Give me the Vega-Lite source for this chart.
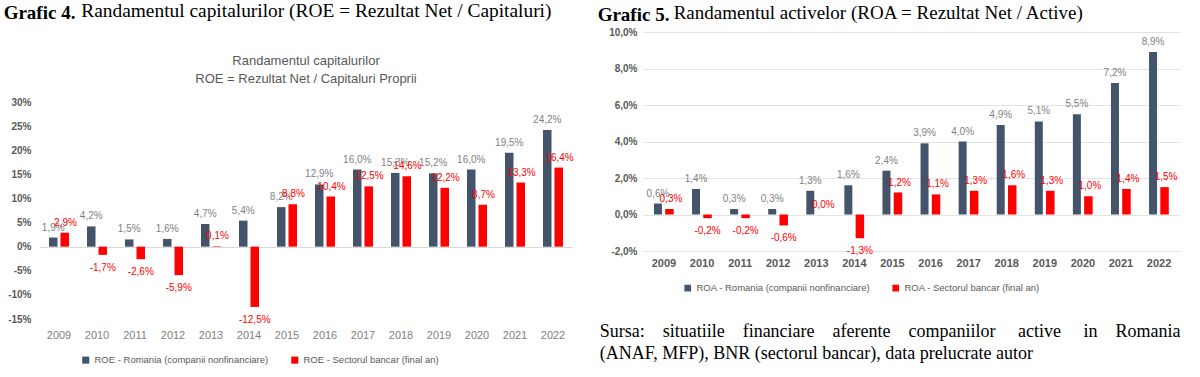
{
  "$schema": "https://vega.github.io/schema/vega-lite/v6.json",
  "padding": {"top": 1, "left": 3, "right": 0, "bottom": 0},
  "config": {
    "locale": {"number": {"decimal": ",", "thousands": ".", "grouping": [3], "currency": ["", " €"], "minus": "-"}},
    "view": {"stroke": null},
    "font": "Liberation Sans"
  },
  "datasets": {
    "roe": [
      {"an": "2009", "serie": "ROE - Romania (companii nonfinanciare)", "v": 0.019},
      {"an": "2010", "serie": "ROE - Romania (companii nonfinanciare)", "v": 0.042},
      {"an": "2011", "serie": "ROE - Romania (companii nonfinanciare)", "v": 0.015},
      {"an": "2012", "serie": "ROE - Romania (companii nonfinanciare)", "v": 0.016},
      {"an": "2013", "serie": "ROE - Romania (companii nonfinanciare)", "v": 0.047},
      {"an": "2014", "serie": "ROE - Romania (companii nonfinanciare)", "v": 0.054},
      {"an": "2015", "serie": "ROE - Romania (companii nonfinanciare)", "v": 0.082},
      {"an": "2016", "serie": "ROE - Romania (companii nonfinanciare)", "v": 0.129},
      {"an": "2017", "serie": "ROE - Romania (companii nonfinanciare)", "v": 0.160},
      {"an": "2018", "serie": "ROE - Romania (companii nonfinanciare)", "v": 0.153},
      {"an": "2019", "serie": "ROE - Romania (companii nonfinanciare)", "v": 0.152},
      {"an": "2020", "serie": "ROE - Romania (companii nonfinanciare)", "v": 0.160},
      {"an": "2021", "serie": "ROE - Romania (companii nonfinanciare)", "v": 0.195},
      {"an": "2022", "serie": "ROE - Romania (companii nonfinanciare)", "v": 0.242},
      {"an": "2009", "serie": "ROE - Sectorul bancar (final an)", "v": 0.029},
      {"an": "2010", "serie": "ROE - Sectorul bancar (final an)", "v": -0.017},
      {"an": "2011", "serie": "ROE - Sectorul bancar (final an)", "v": -0.026},
      {"an": "2012", "serie": "ROE - Sectorul bancar (final an)", "v": -0.059},
      {"an": "2013", "serie": "ROE - Sectorul bancar (final an)", "v": 0.001},
      {"an": "2014", "serie": "ROE - Sectorul bancar (final an)", "v": -0.125},
      {"an": "2015", "serie": "ROE - Sectorul bancar (final an)", "v": 0.088},
      {"an": "2016", "serie": "ROE - Sectorul bancar (final an)", "v": 0.104},
      {"an": "2017", "serie": "ROE - Sectorul bancar (final an)", "v": 0.125},
      {"an": "2018", "serie": "ROE - Sectorul bancar (final an)", "v": 0.146},
      {"an": "2019", "serie": "ROE - Sectorul bancar (final an)", "v": 0.122},
      {"an": "2020", "serie": "ROE - Sectorul bancar (final an)", "v": 0.087},
      {"an": "2021", "serie": "ROE - Sectorul bancar (final an)", "v": 0.133},
      {"an": "2022", "serie": "ROE - Sectorul bancar (final an)", "v": 0.164}
    ],
    "roa": [
      {"an": "2009", "serie": "ROA - Romania (companii nonfinanciare)", "v": 0.006},
      {"an": "2010", "serie": "ROA - Romania (companii nonfinanciare)", "v": 0.014},
      {"an": "2011", "serie": "ROA - Romania (companii nonfinanciare)", "v": 0.003},
      {"an": "2012", "serie": "ROA - Romania (companii nonfinanciare)", "v": 0.003},
      {"an": "2013", "serie": "ROA - Romania (companii nonfinanciare)", "v": 0.013},
      {"an": "2014", "serie": "ROA - Romania (companii nonfinanciare)", "v": 0.016},
      {"an": "2015", "serie": "ROA - Romania (companii nonfinanciare)", "v": 0.024},
      {"an": "2016", "serie": "ROA - Romania (companii nonfinanciare)", "v": 0.039},
      {"an": "2017", "serie": "ROA - Romania (companii nonfinanciare)", "v": 0.040},
      {"an": "2018", "serie": "ROA - Romania (companii nonfinanciare)", "v": 0.049},
      {"an": "2019", "serie": "ROA - Romania (companii nonfinanciare)", "v": 0.051},
      {"an": "2020", "serie": "ROA - Romania (companii nonfinanciare)", "v": 0.055},
      {"an": "2021", "serie": "ROA - Romania (companii nonfinanciare)", "v": 0.072},
      {"an": "2022", "serie": "ROA - Romania (companii nonfinanciare)", "v": 0.089},
      {"an": "2009", "serie": "ROA - Sectorul bancar (final an)", "v": 0.003},
      {"an": "2010", "serie": "ROA - Sectorul bancar (final an)", "v": -0.002},
      {"an": "2011", "serie": "ROA - Sectorul bancar (final an)", "v": -0.002},
      {"an": "2012", "serie": "ROA - Sectorul bancar (final an)", "v": -0.006},
      {"an": "2013", "serie": "ROA - Sectorul bancar (final an)", "v": 0.000},
      {"an": "2014", "serie": "ROA - Sectorul bancar (final an)", "v": -0.013},
      {"an": "2015", "serie": "ROA - Sectorul bancar (final an)", "v": 0.012},
      {"an": "2016", "serie": "ROA - Sectorul bancar (final an)", "v": 0.011},
      {"an": "2017", "serie": "ROA - Sectorul bancar (final an)", "v": 0.013},
      {"an": "2018", "serie": "ROA - Sectorul bancar (final an)", "v": 0.016},
      {"an": "2019", "serie": "ROA - Sectorul bancar (final an)", "v": 0.013},
      {"an": "2020", "serie": "ROA - Sectorul bancar (final an)", "v": 0.010},
      {"an": "2021", "serie": "ROA - Sectorul bancar (final an)", "v": 0.014},
      {"an": "2022", "serie": "ROA - Sectorul bancar (final an)", "v": 0.015}
    ]
  },
  "align": "none",
  "spacing": 23,
  "resolve": {"scale": {"color": "independent"}, "legend": {"color": "independent"}},
  "hconcat": [
    {
      "title": {
        "text": "Grafic 4.",
        "subtitle": "\u200b\u00a0\u00a0\u00a0\u00a0\u00a0\u00a0\u00a0\u00a0\u00a0\u00a0\u00a0\u00a0\u00a0\u00a0\u00a0\u00a0Randamentul capitalurilor (ROE = Rezultat Net / Capitaluri)",
        "anchor": "start",
        "font": "Liberation Serif",
        "fontSize": 19,
        "fontWeight": "bold",
        "color": "#000000",
        "subtitleFont": "Liberation Serif",
        "subtitleFontSize": 19.4,
        "subtitleColor": "#000000",
        "subtitlePadding": -21,
        "offset": 6,
        "dx": -4
      },
      "spacing": 0,
      "vconcat": [
        {
          "width": 532,
          "height": 23,
          "data": {"values": []},
          "mark": {"type": "point"},
          "encoding": {}
        },
        {
          "width": 532,
          "height": 217,
          "title": {
            "text": ["Randamentul capitalurilor", "ROE = Rezultat Net / Capitaluri Proprii"],
            "font": "Liberation Sans",
            "fontSize": 13,
            "fontWeight": "normal",
            "color": "#595959",
            "lineHeight": 18,
            "anchor": "middle",
            "offset": 11
          },
          "data": {"name": "roe"},
          "encoding": {
            "x": {
              "field": "an", "type": "ordinal",
              "scale": {"paddingInner": 0.5, "paddingOuter": 0.25},
              "axis": {"title": null, "domain": false, "ticks": false, "labelAngle": 0, "labelColor": "#7f7f7f", "labelFontSize": 11, "labelPadding": 10}
            },
            "y": {
              "field": "v", "type": "quantitative",
              "scale": {"domain": [-0.15, 0.30], "nice": false},
              "axis": {"title": null, "domain": false, "ticks": false, "grid": true, "gridColor": {"condition": {"test": "datum.value === 0", "value": "#d9d9d9"}, "value": "rgba(0,0,0,0)"}, "format": ".0%", "values": [-0.15, -0.10, -0.05, 0, 0.05, 0.10, 0.15, 0.20, 0.25, 0.30], "labelOverlap": false, "labelColor": "#595959", "labelFontSize": 10, "labelFontWeight": "bold", "labelPadding": 9}
            },
            "color": {
              "field": "serie", "type": "nominal",
              "scale": {"domain": ["ROE - Romania (companii nonfinanciare)", "ROE - Sectorul bancar (final an)"], "range": ["#44546A", "#FF0000"]},
              "legend": {"orient": "none", "legendX": 41, "legendY": 323, "direction": "horizontal", "title": null, "symbolType": "square", "symbolSize": 50, "symbolStrokeWidth": 0, "labelFontSize": 9.5, "labelLimit": 400, "labelColor": "#595959", "columnPadding": 21, "labelOffset": 4}
            }
          },
          "layer": [
            {
              "transform": [{"filter": "indexof(datum.serie, 'Romania') >= 0"}],
              "mark": {"type": "bar", "width": 8.5, "xOffset": -5.75}
            },
            {
              "transform": [{"filter": "indexof(datum.serie, 'bancar') >= 0"}],
              "mark": {"type": "bar", "width": 8.5, "xOffset": 5.75}
            },
            {
              "transform": [{"filter": "indexof(datum.serie, 'Romania') >= 0"}],
              "mark": {"type": "text", "fontSize": 10, "baseline": "middle", "dy": -10, "dx": -5.75},
              "encoding": {
                "text": {"field": "v", "type": "quantitative", "format": ".1%"},
                "color": {"value": "#7f7f7f"}
              }
            },
            {
              "transform": [{"filter": "indexof(datum.serie, 'bancar') >= 0 && datum.v >= 0"}],
              "mark": {"type": "text", "fontSize": 10, "baseline": "middle", "dy": -10, "dx": 6.5},
              "encoding": {
                "text": {"field": "v", "type": "quantitative", "format": ".1%"},
                "color": {"value": "#FF0000"}
              }
            },
            {
              "transform": [{"filter": "datum.v < 0"}],
              "mark": {"type": "text", "fontSize": 10, "baseline": "middle", "dy": 13, "dx": 5.75},
              "encoding": {
                "text": {"field": "v", "type": "quantitative", "format": ".1%"},
                "color": {"value": "#FF0000"}
              }
            }
          ]
        }
      ]
    },
    {
      "title": {
        "text": "Grafic 5.",
        "subtitle": "\u200b\u00a0\u00a0\u00a0\u00a0\u00a0\u00a0\u00a0\u00a0\u00a0\u00a0\u00a0\u00a0\u00a0\u00a0\u00a0\u00a0Randamentul activelor (ROA = Rezultat Net / Active)",
        "anchor": "start",
        "font": "Liberation Serif",
        "fontSize": 19,
        "fontWeight": "bold",
        "color": "#000000",
        "subtitleFont": "Liberation Serif",
        "subtitleFontSize": 19,
        "subtitleColor": "#000000",
        "subtitlePadding": -21,
        "offset": 0,
        "dx": -2
      },
      "vconcat": [
        {
          "width": 537,
          "height": 219,
          "title": {
            "text": ["Sursa:\u00a0\u00a0\u00a0\u00a0situatiile\u00a0\u00a0\u00a0\u00a0financiare\u00a0\u00a0\u00a0\u00a0aferente\u00a0\u00a0\u00a0\u00a0companiilor\u00a0\u00a0\u00a0\u00a0\u00a0active\u00a0\u00a0\u00a0\u00a0\u00a0in\u00a0\u00a0\u00a0\u00a0Romania", "(ANAF, MFP), BNR (sectorul bancar), data prelucrate autor"],
            "orient": "bottom",
            "anchor": "start",
            "font": "Liberation Serif",
            "fontSize": 18,
            "fontWeight": "normal",
            "color": "#000000",
            "lineHeight": 22,
            "offset": 55,
            "dx": -9
          },
          "data": {"name": "roa"},
          "encoding": {
            "x": {
              "field": "an", "type": "ordinal",
              "scale": {"paddingInner": 0.5, "paddingOuter": 0.3},
              "axis": {"title": null, "domain": false, "ticks": false, "labelAngle": 0, "labelColor": "#595959", "labelFontSize": 11, "labelFontWeight": "bold", "labelPadding": 6}
            },
            "y": {
              "field": "v", "type": "quantitative",
              "scale": {"domain": [-0.02, 0.10], "nice": false},
              "axis": {"title": null, "domain": false, "ticks": false, "grid": true, "gridColor": "#e3e3e3", "format": ".1%", "values": [-0.02, 0, 0.02, 0.04, 0.06, 0.08, 0.10], "labelOverlap": false, "labelColor": "#595959", "labelFontSize": 10, "labelFontWeight": "bold", "labelPadding": 6}
            },
            "color": {
              "field": "serie", "type": "nominal",
              "scale": {"domain": ["ROA - Romania (companii nonfinanciare)", "ROA - Sectorul bancar (final an)"], "range": ["#44546A", "#FF0000"]},
              "legend": {"orient": "none", "legendX": 40, "legendY": 251, "direction": "horizontal", "title": null, "symbolType": "square", "symbolSize": 45, "symbolStrokeWidth": 0, "labelFontSize": 9.5, "labelLimit": 400, "labelColor": "#595959", "columnPadding": 20, "labelOffset": 4}
            }
          },
          "layer": [
            {
              "transform": [{"filter": "indexof(datum.serie, 'Romania') >= 0"}],
              "mark": {"type": "bar", "width": 8, "xOffset": -6}
            },
            {
              "transform": [{"filter": "indexof(datum.serie, 'bancar') >= 0"}],
              "mark": {"type": "bar", "width": 8.5, "xOffset": 5.5}
            },
            {
              "transform": [{"filter": "indexof(datum.serie, 'Romania') >= 0"}],
              "mark": {"type": "text", "fontSize": 10, "baseline": "middle", "dy": -10, "dx": -6},
              "encoding": {
                "text": {"field": "v", "type": "quantitative", "format": ".1%"},
                "color": {"value": "#7f7f7f"}
              }
            },
            {
              "transform": [{"filter": "indexof(datum.serie, 'bancar') >= 0 && datum.v >= 0"}],
              "mark": {"type": "text", "fontSize": 10, "baseline": "middle", "dy": -10, "dx": 7},
              "encoding": {
                "text": {"field": "v", "type": "quantitative", "format": ".1%"},
                "color": {"value": "#FF0000"}
              }
            },
            {
              "transform": [{"filter": "datum.v < 0"}],
              "mark": {"type": "text", "fontSize": 10, "baseline": "middle", "dy": 13, "dx": 5.5},
              "encoding": {
                "text": {"field": "v", "type": "quantitative", "format": ".1%"},
                "color": {"value": "#FF0000"}
              }
            }
          ]
        }
      ]
    }
  ]
}
